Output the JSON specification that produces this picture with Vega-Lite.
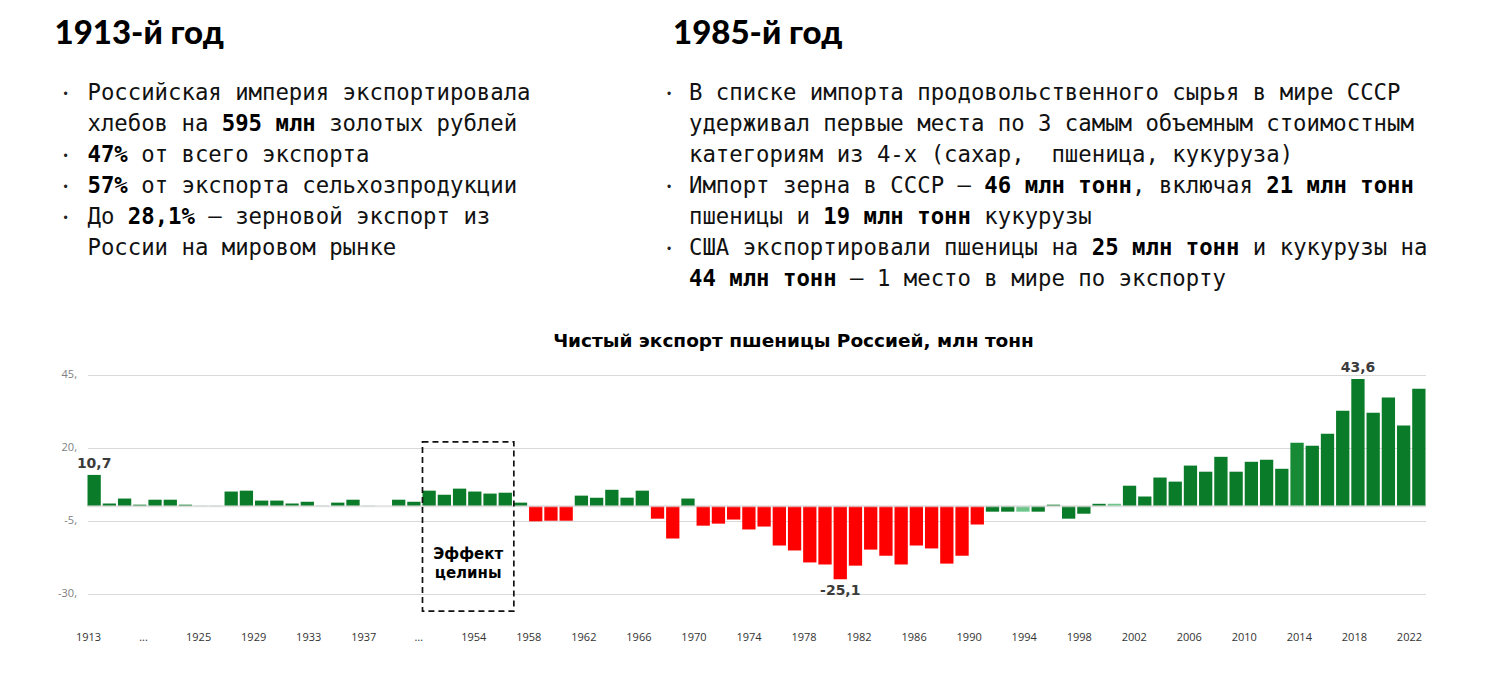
{
  "$schema": "https://vega.github.io/schema/vega-lite/v6.json",
  "background": "white",
  "autosize": {"type": "pad"},
  "padding": {"left": 54.5, "top": 18, "right": 20, "bottom": 20},
  "bounds": "flush",
  "spacing": 269,
  "datasets": {
    "wheat": [
      {"i": 0, "v": 10.7}, {"i": 1, "v": 0.9}, {"i": 2, "v": 2.6}, {"i": 3, "v": 0.5}, {"i": 4, "v": 2.2},
      {"i": 5, "v": 2.2}, {"i": 6, "v": 0.5}, {"i": 7, "v": 0.1}, {"i": 8, "v": 0.1}, {"i": 9, "v": 5.0},
      {"i": 10, "v": 5.3}, {"i": 11, "v": 1.9}, {"i": 12, "v": 1.9}, {"i": 13, "v": 0.9}, {"i": 14, "v": 1.5},
      {"i": 15, "v": 0.1}, {"i": 16, "v": 1.2}, {"i": 17, "v": 2.2}, {"i": 18, "v": 0.1}, {"i": 19, "v": 0},
      {"i": 20, "v": 2.2}, {"i": 21, "v": 1.5}, {"i": 22, "v": 5.3}, {"i": 23, "v": 3.9}, {"i": 24, "v": 6.0},
      {"i": 25, "v": 5.0}, {"i": 26, "v": 4.3}, {"i": 27, "v": 4.6}, {"i": 28, "v": 1.2}, {"i": 29, "v": -5.2},
      {"i": 30, "v": -5.0}, {"i": 31, "v": -5.0}, {"i": 32, "v": 3.6}, {"i": 33, "v": 2.9}, {"i": 34, "v": 5.6},
      {"i": 35, "v": 2.9}, {"i": 36, "v": 5.3}, {"i": 37, "v": -4.3}, {"i": 38, "v": -11.1}, {"i": 39, "v": 2.6},
      {"i": 40, "v": -6.7}, {"i": 41, "v": -6.0}, {"i": 42, "v": -4.6}, {"i": 43, "v": -8.0}, {"i": 44, "v": -7.0},
      {"i": 45, "v": -13.5}, {"i": 46, "v": -15.2}, {"i": 47, "v": -19.3}, {"i": 48, "v": -20.0}, {"i": 49, "v": -25.1},
      {"i": 50, "v": -20.4}, {"i": 51, "v": -14.9}, {"i": 52, "v": -17.0}, {"i": 53, "v": -20.0}, {"i": 54, "v": -13.5},
      {"i": 55, "v": -14.5}, {"i": 56, "v": -19.7}, {"i": 57, "v": -17.0}, {"i": 58, "v": -6.3}, {"i": 59, "v": -1.9},
      {"i": 60, "v": -1.9}, {"i": 61, "v": -1.9}, {"i": 62, "v": -1.9}, {"i": 63, "v": 0.5}, {"i": 64, "v": -4.3},
      {"i": 65, "v": -2.6}, {"i": 66, "v": 0.8}, {"i": 67, "v": 0.8}, {"i": 68, "v": 7.0}, {"i": 69, "v": 3.3},
      {"i": 70, "v": 9.8}, {"i": 71, "v": 8.4}, {"i": 72, "v": 13.9}, {"i": 73, "v": 11.8}, {"i": 74, "v": 16.9},
      {"i": 75, "v": 11.8}, {"i": 76, "v": 15.2}, {"i": 77, "v": 15.9}, {"i": 78, "v": 12.8}, {"i": 79, "v": 21.7},
      {"i": 80, "v": 20.7}, {"i": 81, "v": 24.8}, {"i": 82, "v": 32.7}, {"i": 83, "v": 43.6}, {"i": 84, "v": 32.0},
      {"i": 85, "v": 37.2}, {"i": 86, "v": 27.6}, {"i": 87, "v": 40.2}
    ],
    "xlabels": [
      {"lab": "1913"}, {"lab": "..."}, {"lab": "1925"}, {"lab": "1929"}, {"lab": "1933"}, {"lab": "1937"},
      {"lab": "…"}, {"lab": "1954"}, {"lab": "1958"}, {"lab": "1962"}, {"lab": "1966"}, {"lab": "1970"},
      {"lab": "1974"}, {"lab": "1978"}, {"lab": "1982"}, {"lab": "1986"}, {"lab": "1990"}, {"lab": "1994"},
      {"lab": "1998"}, {"lab": "2002"}, {"lab": "2006"}, {"lab": "2010"}, {"lab": "2014"}, {"lab": "2018"},
      {"lab": "2022"}
    ],
    "lines": [
      {"col": "L", "line": 1, "bul": true, "p1": "Российская империя экспортировала"},
      {"col": "L", "line": 2, "bul": false, "p1": "хлебов на ", "p2": "595 млн ", "p3": "золотых рублей"},
      {"col": "L", "line": 3, "bul": true, "p1": "", "p2": "47% ", "p3": "от всего экспорта"},
      {"col": "L", "line": 4, "bul": true, "p1": "", "p2": "57% ", "p3": "от экспорта сельхозпродукции"},
      {"col": "L", "line": 5, "bul": true, "p1": "До ", "p2": "28,1% ", "p3": "— зерновой экспорт из"},
      {"col": "L", "line": 6, "bul": false, "p1": "России на мировом рынке"},
      {"col": "R", "line": 1, "bul": true, "p1": "В списке импорта продовольственного сырья в мире СССР"},
      {"col": "R", "line": 2, "bul": false, "p1": "удерживал первые места по 3 самым объемным стоимостным"},
      {"col": "R", "line": 3, "bul": false, "p1": "категориям из 4-х (сахар,\u00a0 пшеница, кукуруза)"},
      {"col": "R", "line": 4, "bul": true, "p1": "Импорт зерна в СССР — ", "p2": "46 млн тонн", "p3": ", включая ", "p4": "21 млн тонн"},
      {"col": "R", "line": 5, "bul": false, "p1": "пшеницы и ", "p2": "19 млн тонн ", "p3": "кукурузы"},
      {"col": "R", "line": 6, "bul": true, "p1": "США экспортировали пшеницы на ", "p2": "25 млн тонн ", "p3": "и кукурузы на"},
      {"col": "R", "line": 7, "bul": false, "p1": "", "p2": "44 млн тонн ", "p3": "– 1 место в мире по экспорту"}
    ],
    "notes": [
      {"label": "Эффект\nцелины", "from": 22, "to": 28, "top": 22, "bottom": -36}
    ]
  },
  "vconcat": [
    {
      "bounds": "flush",
      "spacing": 41.5,
      "hconcat": [
        {
          "width": 560,
          "height": 186,
          "title": {"text": "1913-й год", "anchor": "start", "frame": "group", "dx": -33, "offset": 31, "font": "Lato", "fontSize": 33, "fontWeight": 900, "color": "#000000"},
          "data": {"name": "lines"},
          "transform": [
            {"filter": "datum.col == 'L'"},
            {"fold": ["p1", "p2", "p3", "p4"], "as": ["part", "seg"]},
            {"calculate": "length(datum.p1 || '') * (datum.part != 'p1') + length(datum.p2 || '') * (datum.part == 'p3' || datum.part == 'p4') + length(datum.p3 || '') * (datum.part == 'p4')", "as": "ch"}
          ],
          "encoding": {
            "x": {"field": "ch", "type": "quantitative", "scale": {"domain": [0, 41.71], "nice": false, "zero": false}, "axis": null},
            "y": {"field": "line", "type": "quantitative", "scale": {"domain": [1, 7], "reverse": true, "nice": false, "zero": false}, "axis": null}
          },
          "layer": [
            {"transform": [{"filter": "(datum.part == 'p1' || datum.part == 'p3') && datum.seg"}], "mark": {"type": "text", "align": "left", "baseline": "alphabetic", "font": "DejaVu Sans Mono", "fontSize": 22.3, "color": "#111111"}, "encoding": {"text": {"field": "seg"}}},
            {"transform": [{"filter": "(datum.part == 'p2' || datum.part == 'p4') && datum.seg"}], "mark": {"type": "text", "align": "left", "baseline": "alphabetic", "font": "DejaVu Sans Mono", "fontSize": 22.3, "fontWeight": "bold", "color": "#000000"}, "encoding": {"text": {"field": "seg"}}},
            {"transform": [{"filter": "datum.bul && datum.part == 'p1'"}], "mark": {"type": "text", "text": "•", "align": "center", "baseline": "alphabetic", "dx": -22, "dy": -2, "fontSize": 12, "color": "#222222"}}
          ]
        },
        {
          "width": 740,
          "height": 186,
          "title": {"text": "1985-й год", "anchor": "start", "frame": "group", "dx": -16, "offset": 31, "font": "Lato", "fontSize": 33, "fontWeight": 900, "color": "#000000"},
          "data": {"name": "lines"},
          "transform": [
            {"filter": "datum.col == 'R'"},
            {"fold": ["p1", "p2", "p3", "p4"], "as": ["part", "seg"]},
            {"calculate": "length(datum.p1 || '') * (datum.part != 'p1') + length(datum.p2 || '') * (datum.part == 'p3' || datum.part == 'p4') + length(datum.p3 || '') * (datum.part == 'p4')", "as": "ch"}
          ],
          "encoding": {
            "x": {"field": "ch", "type": "quantitative", "scale": {"domain": [0, 55.12], "nice": false, "zero": false}, "axis": null},
            "y": {"field": "line", "type": "quantitative", "scale": {"domain": [1, 7], "reverse": true, "nice": false, "zero": false}, "axis": null}
          },
          "layer": [
            {"transform": [{"filter": "(datum.part == 'p1' || datum.part == 'p3') && datum.seg"}], "mark": {"type": "text", "align": "left", "baseline": "alphabetic", "font": "DejaVu Sans Mono", "fontSize": 22.3, "color": "#111111"}, "encoding": {"text": {"field": "seg"}}},
            {"transform": [{"filter": "(datum.part == 'p2' || datum.part == 'p4') && datum.seg"}], "mark": {"type": "text", "align": "left", "baseline": "alphabetic", "font": "DejaVu Sans Mono", "fontSize": 22.3, "fontWeight": "bold", "color": "#000000"}, "encoding": {"text": {"field": "seg"}}},
            {"transform": [{"filter": "datum.bul && datum.part == 'p1'"}], "mark": {"type": "text", "text": "•", "align": "center", "baseline": "alphabetic", "dx": -20, "dy": -2, "fontSize": 12, "color": "#222222"}}
          ]
        }
      ]
    },
    {
      "width": 1338,
      "height": 248,
      "title": {"text": "Чистый экспорт пшеницы Россией, млн тонн", "anchor": "middle", "frame": "group", "dx": 37, "offset": 10, "font": "DejaVu Sans", "fontSize": 18.5, "fontWeight": "bold", "color": "#000000"},
      "layer": [
        {
          "layer": [
            {
              "data": {"name": "wheat"},
              "mark": {"type": "bar"},
              "encoding": {
                "x": {"field": "i", "type": "ordinal", "scale": {"paddingInner": 0.127, "paddingOuter": 0}, "axis": null},
                "y": {"field": "v", "type": "quantitative", "scale": {"domain": [-38, 47], "nice": false},
                      "axis": {"values": [45, 20, -5, -30], "labelExpr": "datum.value + ','", "grid": true, "gridColor": "#d9d9d9", "gridWidth": 1, "domain": false, "ticks": false, "title": null, "labelPadding": 11, "labelFont": "Open Sans", "labelFontSize": 11, "labelColor": "#808080"}},
                "color": {
                  "condition": [
                    {"test": "datum.i == 61 || datum.i == 67", "value": "#6ec68b"},
                    {"test": "datum.i == 79", "value": "#178a36"},
                    {"test": "datum.v < 0 && datum.i < 59", "value": "#ff0000"}
                  ],
                  "value": "#0a7b28"
                }
              }
            },
            {
              "data": {"values": [{}]},
              "mark": {"type": "rule", "color": "#d9d9d9", "strokeWidth": 2, "opacity": 0.75},
              "encoding": {"y": {"datum": 0, "type": "quantitative"}}
            },
            {
              "data": {"name": "wheat"},
              "transform": [{"filter": "datum.i == 0 || datum.i == 83"}],
              "mark": {"type": "text", "baseline": "bottom", "dy": -4, "font": "DejaVu Sans", "fontSize": 14, "fontWeight": "bold", "color": "#3b3b3b"},
              "encoding": {
                "x": {"field": "i", "type": "ordinal"},
                "y": {"field": "v", "type": "quantitative"},
                "text": {"field": "v", "type": "quantitative", "format": ".1f"}
              }
            },
            {
              "data": {"name": "wheat"},
              "transform": [{"filter": "datum.i == 49"}],
              "mark": {"type": "text", "baseline": "top", "dy": 5, "font": "DejaVu Sans", "fontSize": 14, "fontWeight": "bold", "color": "#3b3b3b"},
              "encoding": {
                "x": {"field": "i", "type": "ordinal"},
                "y": {"field": "v", "type": "quantitative"},
                "text": {"field": "v", "type": "quantitative", "format": ".1f"}
              }
            },
            {
              "data": {"name": "notes"},
              "mark": {"type": "rect", "filled": false, "color": "#111111", "strokeWidth": 1.7, "strokeDash": [6, 4]},
              "encoding": {
                "x": {"field": "from", "type": "ordinal", "bandPosition": 0},
                "x2": {"field": "to", "bandPosition": 0},
                "y": {"field": "top", "type": "quantitative"},
                "y2": {"field": "bottom"}
              }
            },
            {
              "data": {"name": "notes"},
              "mark": {"type": "text", "lineBreak": "\n", "lineHeight": 19, "baseline": "middle", "font": "DejaVu Sans", "fontSize": 15, "fontWeight": "bold", "color": "#000000"},
              "encoding": {
                "x": {"datum": 25, "type": "ordinal", "bandPosition": 0},
                "y": {"datum": -16.4, "type": "quantitative"},
                "text": {"field": "label"}
              }
            }
          ]
        },
        {
          "data": {"name": "xlabels"},
          "mark": {"type": "point", "opacity": 0},
          "encoding": {
            "x": {"field": "lab", "type": "ordinal", "sort": null, "scale": {"type": "point", "padding": 0.155, "align": 0.03},
                  "axis": {"orient": "bottom", "title": null, "domain": false, "ticks": false, "grid": false, "labelAngle": 0, "labelOverlap": false, "labelPadding": 14, "labelFont": "Open Sans", "labelFontSize": 11, "labelColor": "#333333"}}
          }
        }
      ],
      "resolve": {"scale": {"x": "independent"}, "axis": {"x": "independent"}}
    }
  ],
  "config": {
    "view": {"stroke": null},
    "locale": {"number": {"decimal": ",", "thousands": " ", "grouping": [3], "currency": ["", ""], "minus": "-"}}
  }
}
